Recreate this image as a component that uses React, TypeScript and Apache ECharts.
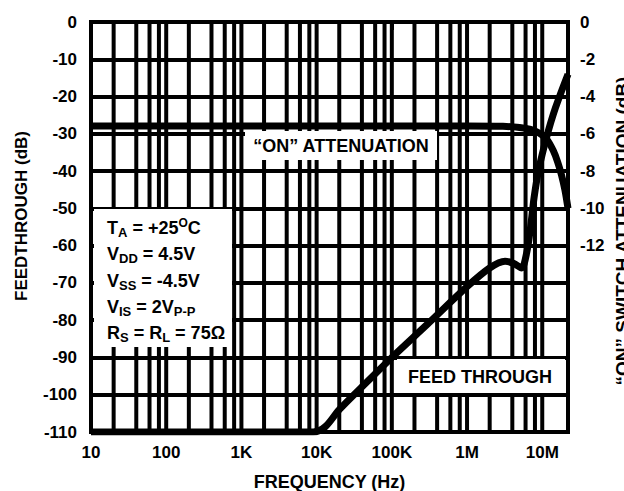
import React, { useEffect, useRef } from 'react';
import * as echarts from 'echarts';

// ---------- data ----------
const X_MIN = 10;
const X_MAX = 2.2e7;
const FREQ_TICKS = [10, 100, 1e3, 1e4, 1e5, 1e6, 1e7];
const FREQ_LABELS = ['10', '100', '1K', '10K', '100K', '1M', '10M'];
const MINOR_MULTIPLIERS = [2, 4, 6, 8];
const RIGHT_LABELS = [0, -2, -4, -6, -8, -10, -12];

const FEED_FREQ = [10, 1e3, 9e3, 1.3e4, 2e4, 5e4, 1e5, 3e5, 1e6, 2e6, 3.2e6, 4.2e6, 5.3e6, 6.2e6, 7e6, 7.8e6, 9e6, 1.14e7, 1.5e7, 2.2e7];
const FEED_DB = [-110, -110, -110, -108.6, -104, -96, -90, -81, -71, -66, -64.2, -64.8, -66, -62, -55, -47, -39.5, -31, -23, -14];

const ON_FREQ = [10, 1e3, 1e5, 1e6, 3e6, 5e6, 7e6, 9e6, 1.15e7, 1.4e7, 1.6e7, 1.8e7, 2e7, 2.2e7];
const ON_DB = [-5.58, -5.58, -5.58, -5.58, -5.6, -5.66, -5.76, -5.95, -6.3, -6.9, -7.5, -8.2, -9.0, -10.0];

const FONT = '"Liberation Sans", Arial, Helvetica, sans-serif';

const minorFreqs: number[] = [];
FREQ_TICKS.slice(0, -1).forEach((d) => MINOR_MULTIPLIERS.forEach((m) => minorFreqs.push(d * m)));
const vGrid = [...FREQ_TICKS, ...minorFreqs];

const GW = 4;

export default function App() {
  const ref = useRef<HTMLDivElement>(null);
  useEffect(() => {
    if (!ref.current) return;
    const chart = echarts.init(ref.current, undefined, { renderer: 'svg' });
    const labelStyle = { color: '#000', fontSize: 17, fontWeight: 'bold' as const, fontFamily: FONT };
    const rich = {
      m: { fontSize: 18, fontWeight: 'bold', fontFamily: FONT, lineHeight: 22, verticalAlign: 'middle' },
      s: { fontSize: 13, fontWeight: 'bold', fontFamily: FONT, lineHeight: 12, verticalAlign: 'bottom' },
      u: { fontSize: 12, fontWeight: 'bold', fontFamily: FONT, lineHeight: 16, verticalAlign: 'top' },
    };
    const legendLines = [
      '{m|T}{s|A}{m| = +25}{u|O}{m|C}',
      '{m|V}{s|DD}{m| = 4.5V}',
      '{m|V}{s|SS}{m| = -4.5V}',
      '{m|V}{s|IS}{m| = 2V}{s|P-P}',
      '{m|R}{s|S}{m| = R}{s|L}{m| = 75Ω}',
    ];
    const legendY = [228, 254, 281, 307, 333];
    const txt = (x: number, y: number, text: string, size: number, rotation = 0) => ({
      type: 'text', x, y, rotation, z: 10,
      style: {
        text, fill: '#000', fontSize: size, fontWeight: 'bold', fontFamily: FONT,
        align: 'center', verticalAlign: 'middle', textAlign: 'center', textVerticalAlign: 'middle',
      },
    });
    const option: any = {
      animation: false,
      backgroundColor: '#fff',
      grid: { left: 91, right: 56, top: 22, bottom: 59, show: true, borderColor: '#000', borderWidth: GW, backgroundColor: 'transparent' },
      xAxis: {
        type: 'log', logBase: 10, min: X_MIN, max: X_MAX, z: 0,
        axisLine: { show: true, lineStyle: { color: '#000', width: GW } },
        axisTick: { show: true, length: 8, inside: false, lineStyle: { color: '#000', width: 3 }, customValues: FREQ_TICKS },
        axisLabel: {
          ...labelStyle, margin: 12, customValues: FREQ_TICKS,
          formatter: (v: number) => {
            const i = FREQ_TICKS.findIndex((t) => Math.abs(t - v) / t < 1e-6);
            return i >= 0 ? FREQ_LABELS[i] : '';
          },
        },
        splitLine: { show: false },
        minorSplitLine: { show: false },
      },
      yAxis: [
        {
          type: 'value', min: -110, max: 0, interval: 10, position: 'left', z: 0,
          axisLine: { show: true, lineStyle: { color: '#000', width: GW } },
          axisTick: { show: true, inside: true, length: 6, lineStyle: { color: '#000', width: 3 } },
          axisLabel: { ...labelStyle, margin: 14 },
          splitLine: { show: true, lineStyle: { color: '#000', width: GW, type: 'solid', opacity: 1 } },
        },
        {
          type: 'value', min: -22, max: 0, interval: 2, position: 'right', z: 0,
          axisLine: { show: true, lineStyle: { color: '#000', width: GW } },
          axisTick: { show: false },
          axisLabel: {
            ...labelStyle, margin: 12,
            formatter: (v: number) => (RIGHT_LABELS.indexOf(v) >= 0 ? String(v) : ''),
          },
          splitLine: { show: false },
        },
      ],
      series: [
        {
          name: 'vgrid', type: 'custom', z: 1, silent: true, clip: false,
          data: vGrid.map((f) => [f, 0]),
          encode: { x: 0, y: 1 },
          renderItem: (_p: any, api: any) => {
            const a = api.coord([api.value(0), 0]);
            const b = api.coord([api.value(0), -110]);
            return {
              type: 'rect',
              shape: { x: a[0] - GW / 2, y: a[1], width: GW, height: b[1] - a[1] },
              style: { fill: '#000', stroke: 'none', opacity: 1 },
            };
          },
        },
        {
          name: 'Feed through', type: 'line', z: 3, yAxisIndex: 0,
          data: FEED_FREQ.map((f, i) => [f, FEED_DB[i]]),
          showSymbol: false, symbol: 'none', smooth: 0.3,
          lineStyle: { color: '#000', width: 7 },
        },
        {
          name: 'ON attenuation', type: 'line', z: 3, yAxisIndex: 1,
          data: ON_FREQ.map((f, i) => [f, ON_DB[i]]),
          showSymbol: false, symbol: 'none', smooth: 0.3,
          lineStyle: { color: '#000', width: 7 },
        },
      ],
      graphic: [
        { type: 'rect', z: 2, shape: { x: 94, y: 209, width: 138, height: 138 }, style: { fill: '#fff' } },
        { type: 'rect', z: 2, shape: { x: 245, y: 131, width: 192, height: 29 }, style: { fill: '#fff' } },
        { type: 'rect', z: 2, shape: { x: 397, y: 359, width: 168, height: 34 }, style: { fill: '#fff' } },
        ...legendLines.map((t, i) => ({
          type: 'text', x: 107, y: legendY[i], z: 10,
          style: { text: t, rich, fill: '#000', align: 'left', verticalAlign: 'middle', textAlign: 'left', textVerticalAlign: 'middle' },
        })),
        txt(341, 146, '\u201CON\u201D ATTENUATION', 18),
        txt(480, 377, 'FEED THROUGH', 18),
        txt(329.5, 482, 'FREQUENCY (Hz)', 18),
        txt(21, 216, 'FEEDTHROUGH (dB)', 17, Math.PI / 2),
        txt(622, 231, '\u201CON\u201D SWITCH ATTENUATION (dB)', 19, Math.PI / 2),
      ],
    };
    chart.setOption(option);
    return () => chart.dispose();
  }, []);
  return <div ref={ref} style={{ position: 'absolute', left: 0, top: 0, width: 624, height: 491 }} />;
}
